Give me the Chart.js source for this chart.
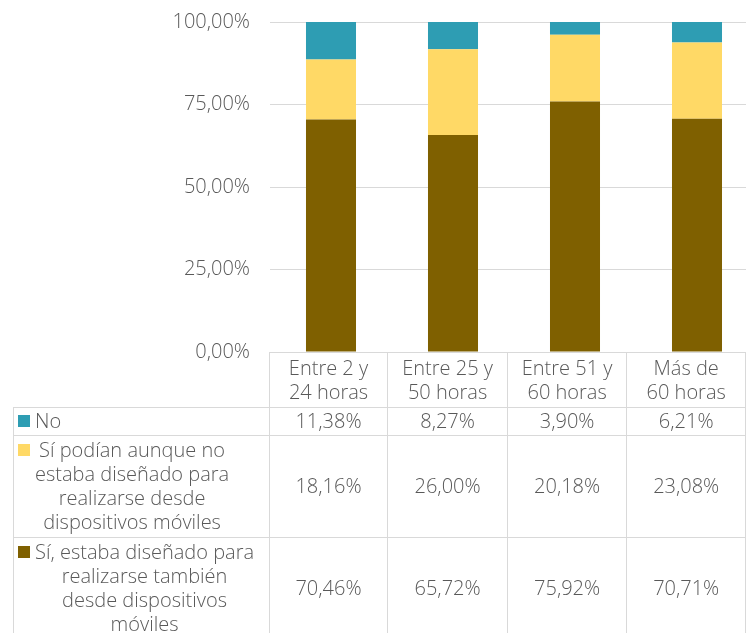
<!DOCTYPE html>
<html>
<head>
<meta charset="utf-8">
<script src="https://cdn.jsdelivr.net/npm/chart.js@4/dist/chart.umd.min.js"></script>
<style>
  html, body { margin: 0; padding: 0; background: #fff; }
  #wrap { position: relative; width: 746px; height: 633px; overflow: hidden; font-family: "Open Sans", Lato, sans-serif; color: #595959; }
  #chartBox { position: absolute; left: 0; top: -10px; width: 758px; height: 394px; }
  #tbl { position: absolute; left: 13px; top: 352px; border-collapse: collapse; table-layout: fixed; font-size: 20px; font-weight: 300; line-height: 24px; color: #595959; }
  #tbl td { border: 1px solid #d9d9d9; padding: 0; text-align: center; vertical-align: middle; white-space: nowrap; }
  #tbl td.corner { border-top: none; border-left: none; }
  #tbl td.labcell { text-align: left; }
  .lab { position: relative; padding-left: 21px; }
  .lab .txt { display: inline-block; text-align: center; }
  .key { position: absolute; left: 4px; top: 6px; width: 12px; height: 12px; }
</style>
</head>
<body>
<div id="wrap">
  <div id="chartBox"><canvas id="c" width="758" height="394"></canvas></div>
  <table id="tbl"></table>
</div>
<script>
// ---- data ----
const categories = [['Entre 2 y', '24 horas'], ['Entre 25 y', '50 horas'], ['Entre 51 y', '60 horas'], ['Más de', '60 horas']];
const seriesNames = [
  ['No'],
  ['Sí podían aunque no', 'estaba diseñado para', 'realizarse desde', 'dispositivos móviles'],
  ['Sí, estaba diseñado para', 'realizarse también', 'desde dispositivos', 'móviles']
];
const noValues = [11.38, 8.27, 3.90, 6.21];
const siPodianValues = [18.16, 26.00, 20.18, 23.08];
const siDisenadoValues = [70.46, 65.72, 75.92, 70.71];
const yTicks = [0, 25, 50, 75, 100];
const colors = ['#2E9DB3', '#FFD966', '#7F6000'];

const fmt = v => v.toFixed(2).replace('.', ',') + '%';

// ---- chart ----
new Chart(document.getElementById('c'), {
  type: 'bar',
  data: {
    labels: categories.map(c => c.join(' ')),
    datasets: [
      { label: seriesNames[2].join(' '), data: siDisenadoValues, backgroundColor: colors[2] },
      { label: seriesNames[1].join(' '), data: siPodianValues, backgroundColor: colors[1] },
      { label: seriesNames[0].join(' '), data: noValues, backgroundColor: colors[0] }
    ].map(d => Object.assign(d, { barPercentage: 0.41, categoryPercentage: 1, borderWidth: 0 }))
  },
  options: {
    responsive: false,
    animation: false,
    layout: { padding: 0 },
    plugins: { legend: { display: false }, tooltip: { enabled: false } },
    scales: {
      x: { stacked: true, display: false, grid: { display: false } },
      y: {
        stacked: true, min: 0, max: 100,
        afterBuildTicks: s => { s.ticks = yTicks.map(v => ({ value: v })); },
        afterFit: s => { s.width = 270; },
        ticks: { color: '#595959', padding: 20, font: { family: 'Open Sans', size: 20, weight: '300' }, callback: v => fmt(v) },
        grid: { color: '#d9d9d9', drawTicks: false, lineWidth: 1 },
        border: { display: false }
      }
    }
  }
});

// ---- data table ----
const tbl = document.getElementById('tbl');
const colW = [257, 122, 122, 122, 122];
const cg = document.createElement('colgroup');
colW.forEach(w => { const c = document.createElement('col'); c.style.width = w + 'px'; cg.appendChild(c); });
tbl.appendChild(cg);

let tr = document.createElement('tr');
let td = document.createElement('td'); td.className = 'corner'; td.style.height = '54px'; tr.appendChild(td);
categories.forEach(c => { const t = document.createElement('td'); t.innerHTML = c.join('<br>'); tr.appendChild(t); });
tbl.appendChild(tr);

const rows = [
  { name: seriesNames[0], vals: noValues, color: colors[0], h: 27 },
  { name: seriesNames[1], vals: siPodianValues, color: colors[1], h: 101 },
  { name: seriesNames[2], vals: siDisenadoValues, color: colors[2], h: 101 }
];
rows.forEach(r => {
  const row = document.createElement('tr');
  const l = document.createElement('td');
  l.className = 'labcell';
  l.style.height = r.h + 'px';
  const div = document.createElement('div');
  div.className = 'lab';
  div.innerHTML = '<span class="key" style="background:' + r.color + '"></span><span class="txt">' + r.name.join('<br>') + '</span>';
  l.appendChild(div);
  row.appendChild(l);
  r.vals.forEach(v => { const t = document.createElement('td'); t.textContent = fmt(v); row.appendChild(t); });
  tbl.appendChild(row);
});
</script>
</body>
</html>
